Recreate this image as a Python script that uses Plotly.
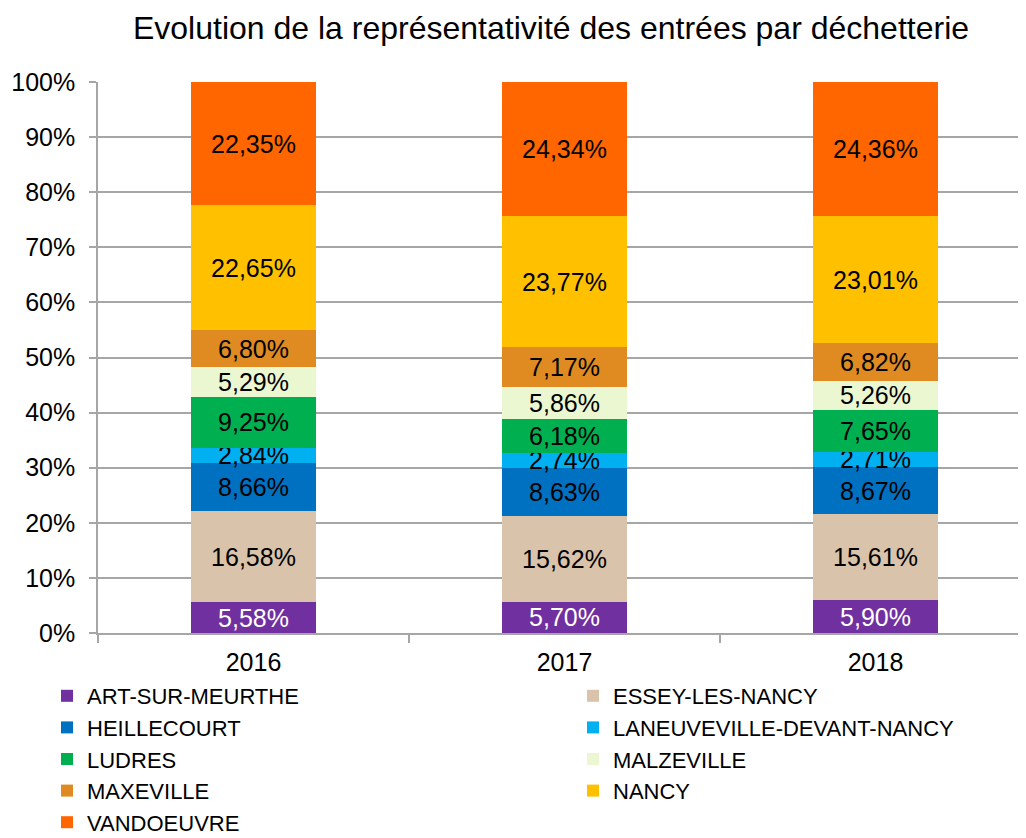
import plotly.graph_objects as go

years = ["2016", "2017", "2018"]
sites = ["ART-SUR-MEURTHE", "ESSEY-LES-NANCY", "HEILLECOURT", "LANEUVEVILLE-DEVANT-NANCY",
         "LUDRES", "MALZEVILLE", "MAXEVILLE", "NANCY", "VANDOEUVRE"]
art = [5.58, 5.70, 5.90]
essey = [16.58, 15.62, 15.61]
heillecourt = [8.66, 8.63, 8.67]
laneuveville = [2.84, 2.74, 2.71]
ludres = [9.25, 6.18, 7.65]
malzeville = [5.29, 5.86, 5.26]
maxeville = [6.80, 7.17, 6.82]
nancy = [22.65, 23.77, 23.01]
vandoeuvre = [22.35, 24.34, 24.36]
series = [art, essey, heillecourt, laneuveville, ludres, malzeville, maxeville, nancy, vandoeuvre]
colors = ["#7030A0", "#D9C3AA", "#0070C0", "#00B0F0", "#00B050", "#EBF7D0", "#DF8B22", "#FFC000", "#FF6600"]
text_colors = ["white"] + ["black"] * 8

FONT = "Liberation Sans, Arial"
W, H = 1023, 830

fig = go.Figure()
for i, (name, vals, col, tc) in enumerate(zip(sites, series, colors, text_colors)):
    fig.add_trace(go.Bar(
        x=years, y=vals, name=name, marker=dict(color=col, line=dict(width=0)),
        texttemplate="%{y:.2f}%", textposition="inside", insidetextanchor="middle",
        textangle=0, textfont=dict(color=tc, size=25, family=FONT),
        constraintext="none",
        legend="legend" if i % 2 == 0 else "legend2",
    ))

leg_common = dict(orientation="v", xref="container", yref="container", yanchor="top",
                  xanchor="left", traceorder="normal", font=dict(size=22, color="black", family=FONT),
                  itemclick=False, tracegroupgap=0, bgcolor="rgba(0,0,0,0)")

fig.update_layout(
    barmode="stack", bargap=0.6, separators=", ",
    width=W, height=H,
    paper_bgcolor="white", plot_bgcolor="white",
    margin=dict(l=90, r=0, t=74, b=H - 625, autoexpand=False),
    font=dict(family=FONT, size=25, color="black"),
    title=dict(text="Evolution de la représentativité des entrées par déchetterie",
               x=543 / W, xanchor="center", xref="container", y=1 - 20 / H, yref="container",
               yanchor="middle", font=dict(size=32, color="black", family=FONT)),
    uniformtext=dict(mode=False),
    legend=dict(x=39 / W, y=1 - 667 / H, **leg_common),
    legend2=dict(x=565 / W, y=1 - 667 / H, **leg_common),
    showlegend=True,
)
fig.update_yaxes(range=[0, 100], dtick=10, ticksuffix="%", showgrid=True, gridcolor="#A6A6A6",
                 gridwidth=1.5, showline=True, linecolor="#A6A6A6", linewidth=1.5,
                 ticks="outside", ticklen=7, tickcolor="#A6A6A6", tickwidth=1.5,
                 zeroline=False, tickfont=dict(size=25), automargin=False, ticklabelstandoff=9)
fig.update_xaxes(showline=True, linecolor="#A6A6A6", linewidth=1.5, ticks="outside",
                 tickson="boundaries", ticklen=8, tickcolor="#A6A6A6", tickwidth=1.5,
                 showgrid=False, tickfont=dict(size=25), automargin=False, ticklabelstandoff=6)

fig.write_html("out.html")
